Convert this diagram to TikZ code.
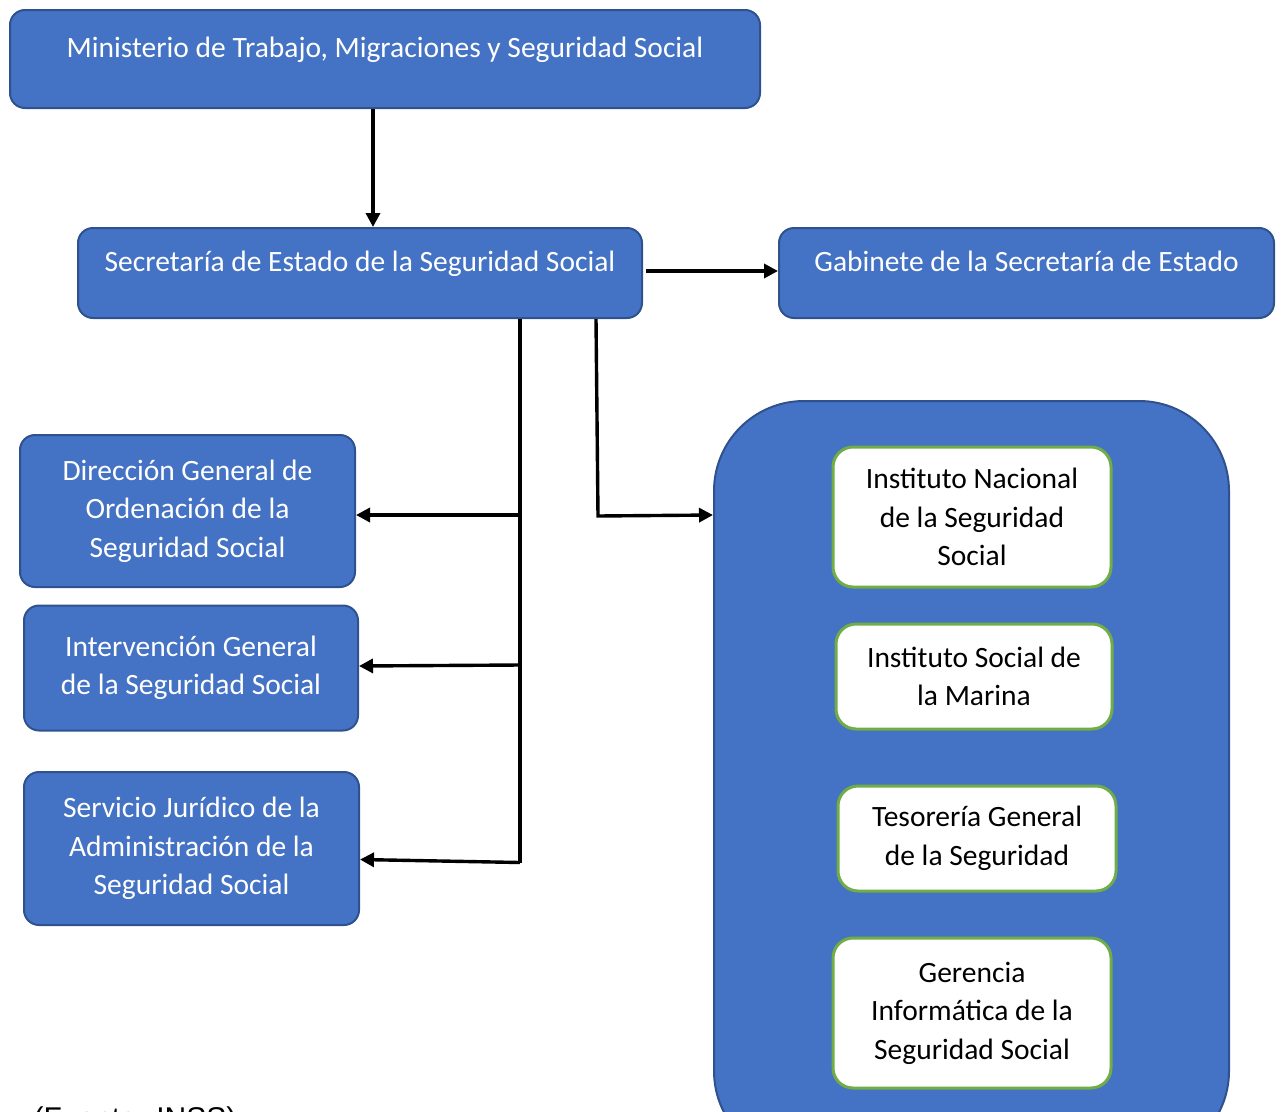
\documentclass[tikz,border=0pt]{standalone}
\usepackage{fontspec}
\setmainfont{Carlito}
\newfontfamily\srcfont{Liberation Sans}
\usetikzlibrary{positioning,arrows.meta,calc}
\definecolor{boxblue}{HTML}{4472C4}
\definecolor{edgeblue}{HTML}{2F528F}
\definecolor{edgegreen}{HTML}{70AD47}

\begin{document}
\begin{tikzpicture}[
  x=1pt, y=-1pt,
  box/.style={draw=edgeblue, line width=2pt, fill=boxblue, rounded corners=15pt, align=center, text=white, font=\fontsize{29.5}{38.5}\selectfont, inner sep=0pt},
  topbox/.style={box, text height=14pt, text depth=18pt},
  unit/.style={draw=edgegreen, line width=3pt, fill=white, rounded corners=20pt, align=center, font=\fontsize{29.5}{38.5}\selectfont, inner sep=0pt},
  arr/.style={-{Triangle[length=14pt, width=14pt]}, line width=3.4pt},
  trunk/.style={line width=3.4pt}
]
\useasboundingbox (0,0) rectangle (1282,1111);
\clip (0,0) rectangle (1282,1111);

\node[topbox, minimum width=750pt, minimum height=98pt] (mtss) at (385,59) {Ministerio de Trabajo, Migraciones y Seguridad Social};
\node[topbox, minimum width=564pt, minimum height=90pt] (sess) at (360,273) {Secretaría de Estado de la Seguridad Social};
\node[topbox, minimum width=495pt, minimum height=90pt] (gab) at (1026.5,273) {Gabinete de la Secretaría de Estado};

\node[box, minimum width=335pt, minimum height=152pt] (dgo) at (187.5,511) {Dirección General de\\Ordenación de la\\Seguridad Social};
\node[box, minimum width=334pt, minimum height=125pt] (igss) at (191,668) {Intervención General\\de la Seguridad Social};
\node[box, minimum width=335pt, minimum height=153pt] (sj) at (191.5,848.5) {Servicio Jurídico de la\\Administración de la\\Seguridad Social};

% entidades gestoras y servicios comunes
\node[box, rounded corners=90pt, minimum width=515pt, minimum height=760pt] (ent) at (971.5,781) {};
\node[unit, minimum width=278pt, minimum height=140pt] (inss) at (972,517) {Instituto Nacional\\de la Seguridad\\Social};
\node[unit, minimum width=276pt, minimum height=105pt] (ism) at (974,676.5) {Instituto Social de\\la Marina};
\node[unit, minimum width=278pt, minimum height=105pt] (tgss) at (977,838.5) {Tesorería General\\de la Seguridad};
\node[unit, minimum width=278pt, minimum height=150pt] (giss) at (972,1013) {Gerencia\\Informática de la\\Seguridad Social};

\node[anchor=base west, font=\srcfont\fontsize{30}{36}\selectfont] (src) at (30,1128) {(Fuente: INSS)};

\coordinate (down) at ([xshift=160pt]sess.south);
\coordinate (side) at ([xshift=236pt]sess.south);

\draw[arr] ([xshift=-12pt]mtss.south) -- ([xshift=-12pt]mtss.south |- sess.north);
\draw[arr] ([xshift=3pt,yshift=2pt]sess.east) -- ([yshift=2pt]gab.west);
\draw[trunk] (down) -- ($(down |- sj.east)+(0,14)$);
\draw[arr] ($(down |- dgo.east)+(0,4)$) -- ($(dgo.east)+(0,4)$);
\draw[arr] ($(down |- igss.east)+(0,-3)$) -- ($(igss.east)+(0,-2)$);
\draw[arr] ($(down |- sj.east)+(0,14)$) -- ($(sj.east)+(0,11)$);
\draw[arr] (side) -- ++(2,197) -- ($(ent.west |- dgo.east)+(0,4)$);
\end{tikzpicture}
\end{document}
